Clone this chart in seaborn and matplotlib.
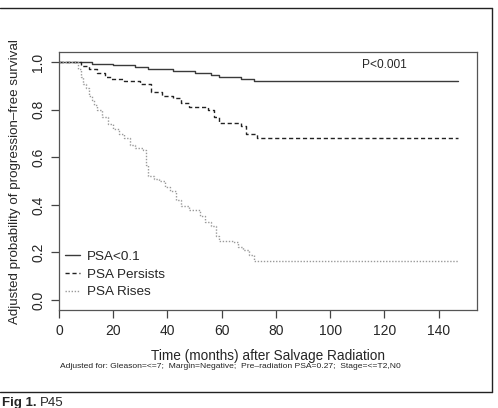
import pandas as pd
import matplotlib
matplotlib.use('Agg')
import matplotlib.pyplot as plt
from matplotlib.lines import Line2D
import seaborn as sns

# Adjusted survival curves (months, probability)
time_lt01 = [0, 6, 12, 20, 28, 33, 42, 50, 56, 59, 67, 72, 147]
surv_lt01 = [1.0, 1.0, 0.993, 0.987, 0.98, 0.97, 0.962, 0.955, 0.945, 0.937, 0.93, 0.92, 0.92]

time_persist = [0, 6, 8, 11, 14, 17, 19, 24, 30, 34, 38, 42, 45, 48, 55, 57, 59, 67, 69, 73, 147]
surv_persist = [1.0, 1.0, 0.985, 0.97, 0.955, 0.94, 0.93, 0.92, 0.91, 0.875, 0.86, 0.848, 0.83,
                0.813, 0.80, 0.77, 0.744, 0.734, 0.70, 0.68, 0.68]

time_rises = [0, 6, 7, 8, 9, 10, 11, 12, 13, 14, 16, 18, 20, 22, 24, 26, 28, 31, 32, 33, 35, 37,
              39, 41, 43, 45, 48, 52, 54, 56, 58, 59, 64, 66, 68, 70, 72, 147]
surv_rises = [1.0, 1.0, 0.97, 0.94, 0.91, 0.89, 0.86, 0.84, 0.82, 0.80, 0.77, 0.74, 0.72, 0.70,
              0.68, 0.65, 0.64, 0.63, 0.57, 0.52, 0.51, 0.50, 0.475, 0.46, 0.42, 0.395, 0.38,
              0.355, 0.33, 0.31, 0.27, 0.25, 0.245, 0.225, 0.21, 0.19, 0.165, 0.165]

groups = ['PSA<0.1', 'PSA Persists', 'PSA Rises']
x_ticks = [0, 20, 40, 60, 80, 100, 120, 140]
y_ticks = [0.0, 0.2, 0.4, 0.6, 0.8, 1.0]

df = pd.concat([
    pd.DataFrame({'time': time_lt01, 'surv': surv_lt01, 'group': groups[0]}),
    pd.DataFrame({'time': time_persist, 'surv': surv_persist, 'group': groups[1]}),
    pd.DataFrame({'time': time_rises, 'surv': surv_rises, 'group': groups[2]}),
])

sns.set_style('white')
plt.rcParams['font.family'] = ['Liberation Sans', 'DejaVu Sans']

fig = plt.figure(figsize=(4.98, 4.08), dpi=100)
ax = fig.add_axes([0.1185, 0.2402, 0.957 - 0.1185, 0.8718 - 0.2402])

sns.lineplot(data=df, x='time', y='surv', hue='group', style='group', ax=ax,
             palette={groups[0]: '#3a3a3a', groups[1]: '#222222', groups[2]: '#9a9a9a'},
             dashes={groups[0]: '', groups[1]: (3, 2), groups[2]: (1, 1.2)},
             estimator=None, drawstyle='steps-post', linewidth=1.0)

ax.set_xlim(0, 154)
ax.set_ylim(-0.042, 1.042)
ax.set_xticks(x_ticks)
ax.set_yticks(y_ticks)
ax.set_yticklabels([f'{v:.1f}' for v in y_ticks], rotation=90, va='center')
ax.tick_params(axis='both', direction='out', length=6, width=0.9, color='#444444',
               labelsize=10, pad=4, left=True, bottom=True)
for s in ax.spines.values():
    s.set_color('#555555')
    s.set_linewidth(0.9)

ax.set_xlabel('Time (months) after Salvage Radiation', fontsize=9.8, labelpad=8)
ax.set_ylabel('Adjusted probability of progression\u2013free survival', fontsize=9.6, labelpad=7)

ax.text(120, 0.99, 'P<0.001', fontsize=8.6, ha='center', va='center')

leg = ax.legend(loc='lower left', bbox_to_anchor=(0.0144, 0.045), frameon=False, fontsize=9.7,
                handlelength=1.1, handletextpad=0.5, labelspacing=0.4, borderaxespad=0,
                borderpad=0, title=None)

fig.text(60 / 498, 1 - 366 / 408,
         'Adjusted for: Gleason=<=7;  Margin=Negative;  Pre\u2013radiation PSA=0.27;  Stage=<=T2,N0',
         fontsize=6.1, ha='left', va='center', color='#222222')

# outer figure frame (left side open) and caption
fig.add_artist(Line2D([0, 492 / 498], [1 - 8 / 408, 1 - 8 / 408], color='#222222', lw=1.0))
fig.add_artist(Line2D([492 / 498, 492 / 498], [1 - 8 / 408, 1 - 391.5 / 408], color='#222222', lw=1.0))
fig.add_artist(Line2D([0, 492 / 498], [1 - 391.5 / 408, 1 - 391.5 / 408], color='#222222', lw=1.0))
fig.text(0.004, 2 / 408, 'Fig 1.', fontsize=9.5, fontweight='bold', ha='left', va='baseline')
fig.text(40 / 498, 2 / 408, 'P45', fontsize=9.5, ha='left', va='baseline')

fig.savefig('out.png', dpi=100)
